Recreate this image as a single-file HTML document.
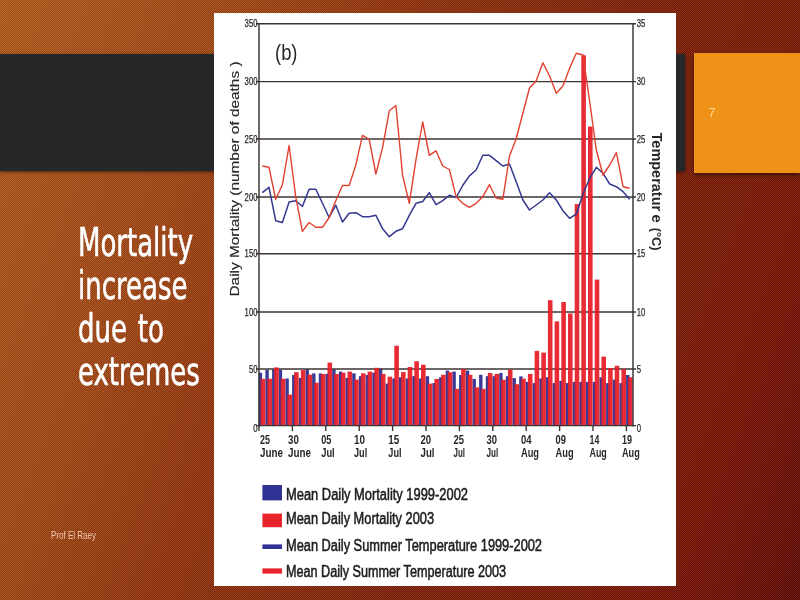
<!DOCTYPE html>
<html lang="en">
<head>
<meta charset="utf-8">
<title>Mortality increase due to extremes</title>
<style>
html,body{margin:0;padding:0}
body{width:800px;height:600px;overflow:hidden;position:relative;font-family:"Liberation Sans",sans-serif;background:#8a3516}
.bg{position:absolute;left:0;top:0;width:800px;height:600px;background:linear-gradient(112deg,rgb(187,98,34) 0%,rgb(168,78,26) 23.3%,rgb(152,57,17) 38.4%,rgb(132,37,14) 61.6%,rgb(128,31,10) 76.7%,rgb(123,23,9) 88.4%,rgb(99,13,9) 100%);}
.tex{position:absolute;left:0;top:0;width:800px;height:600px;
 background:repeating-conic-gradient(rgba(30,0,0,.20) 0% 25%,rgba(255,200,150,.08) 0% 50%) 0 0/2px 2px;}
.band{position:absolute;left:0;top:53.6px;width:685px;height:117.6px;background:#262728;box-shadow:0 1px 3px rgba(0,0,0,.55)}
.num{position:absolute;left:694px;top:53px;width:106px;height:120px;background:#ef9318;box-shadow:0 2px 4px rgba(0,0,0,.5)}
.num span{position:absolute;left:14.3px;top:52.8px;font-size:13px;line-height:14px;color:#fbd68c}
.chart{position:absolute;left:214px;top:13px;display:block}
h1{position:absolute;left:77.5px;top:221px;margin:0;font-weight:normal;color:#fff;font-family:"DejaVu Sans Condensed","DejaVu Sans","Liberation Sans",sans-serif;
 font-size:39.5px;line-height:43px;word-spacing:3.5px;-webkit-text-stroke:.6px #fff;white-space:nowrap;transform-origin:0 0;transform:scaleX(.731)}
.foot{position:absolute;left:50.5px;top:528.3px;font-size:10.7px;line-height:14px;color:#efc9ab;white-space:nowrap;transform-origin:0 0;transform:scaleX(.75)}
</style>
</head>
<body>
<div class="bg"></div>
<div class="tex"></div>
<div class="band"></div>
<div class="num"><span>7</span></div>
<svg class="chart" width="462" height="573" viewBox="214 13 462 573">
<rect x="214" y="13" width="462" height="573" fill="#fff"/>
<g style="filter:blur(.5px)">
<g fill="#3a3a96">
<rect x="258.7" y="372.7" width="3.4" height="52.9"/>
<rect x="265.4" y="369.8" width="3.4" height="55.8"/>
<rect x="272.1" y="369.2" width="3.4" height="56.3"/>
<rect x="278.7" y="369.8" width="3.4" height="55.8"/>
<rect x="285.4" y="378.5" width="3.4" height="47.1"/>
<rect x="292.1" y="375" width="3.4" height="50.6"/>
<rect x="298.8" y="377.9" width="3.4" height="47.7"/>
<rect x="305.5" y="369.2" width="3.4" height="56.3"/>
<rect x="312.1" y="373.4" width="3.4" height="52.2"/>
<rect x="318.8" y="373.4" width="3.4" height="52.2"/>
<rect x="325.5" y="373.9" width="3.4" height="51.7"/>
<rect x="332.2" y="369.2" width="3.4" height="56.3"/>
<rect x="338.9" y="371.6" width="3.4" height="54"/>
<rect x="345.5" y="377.9" width="3.4" height="47.7"/>
<rect x="352.2" y="373.3" width="3.4" height="52.3"/>
<rect x="358.9" y="376.2" width="3.4" height="49.4"/>
<rect x="365.6" y="375" width="3.4" height="50.6"/>
<rect x="372.3" y="372.7" width="3.4" height="52.9"/>
<rect x="378.9" y="368.7" width="3.4" height="56.9"/>
<rect x="385.6" y="383.6" width="3.4" height="42"/>
<rect x="392.3" y="378.5" width="3.4" height="47.1"/>
<rect x="399" y="377.3" width="3.4" height="48.3"/>
<rect x="405.7" y="378.5" width="3.4" height="47.1"/>
<rect x="412.3" y="376.2" width="3.4" height="49.4"/>
<rect x="419" y="378.5" width="3.4" height="47.1"/>
<rect x="425.7" y="376.2" width="3.4" height="49.4"/>
<rect x="432.4" y="383.1" width="3.4" height="42.5"/>
<rect x="439.1" y="377.3" width="3.4" height="48.3"/>
<rect x="445.7" y="370.6" width="3.4" height="55"/>
<rect x="452.4" y="371.6" width="3.4" height="54"/>
<rect x="459.1" y="375" width="3.4" height="50.6"/>
<rect x="465.8" y="370.6" width="3.4" height="55"/>
<rect x="472.5" y="378.9" width="3.4" height="46.7"/>
<rect x="479.1" y="374.8" width="3.4" height="50.8"/>
<rect x="485.8" y="376.2" width="3.4" height="49.4"/>
<rect x="492.5" y="376.2" width="3.4" height="49.4"/>
<rect x="499.2" y="373" width="3.4" height="52.6"/>
<rect x="505.9" y="376.2" width="3.4" height="49.4"/>
<rect x="512.5" y="378.1" width="3.4" height="47.5"/>
<rect x="519.2" y="376.4" width="3.4" height="49.2"/>
<rect x="525.9" y="381.9" width="3.4" height="43.7"/>
<rect x="532.6" y="383.1" width="3.4" height="42.5"/>
<rect x="539.3" y="378.5" width="3.4" height="47.1"/>
<rect x="545.9" y="377.3" width="3.4" height="48.3"/>
<rect x="552.6" y="383.1" width="3.4" height="42.5"/>
<rect x="559.3" y="380.8" width="3.4" height="44.8"/>
<rect x="566" y="383.1" width="3.4" height="42.5"/>
<rect x="572.7" y="381.9" width="3.4" height="43.7"/>
<rect x="579.3" y="381.9" width="3.4" height="43.7"/>
<rect x="586" y="381.9" width="3.4" height="43.7"/>
<rect x="592.7" y="381.9" width="3.4" height="43.7"/>
<rect x="599.4" y="377.3" width="3.4" height="48.3"/>
<rect x="606.1" y="383.1" width="3.4" height="42.5"/>
<rect x="612.7" y="379.6" width="3.4" height="46"/>
<rect x="619.4" y="383.1" width="3.4" height="42.5"/>
<rect x="626.1" y="375" width="3.4" height="50.6"/>
</g>
<g stroke="#3b3433" stroke-width="1.45" fill="none">
<path d="M256.0 23.8H636"/>
<path d="M256.0 81.6H636"/>
<path d="M256.0 139H636"/>
<path d="M256.0 197H636"/>
<path d="M256.0 253.8H636"/>
<path d="M256.0 312H636"/>
<path d="M256.0 369H636"/>
</g>
<g fill="#e61f29" fill-opacity=".94">
<rect x="260.7" y="378.8" width="4.6" height="46.8"/>
<rect x="267.4" y="378.8" width="4.6" height="46.8"/>
<rect x="274.1" y="367.4" width="4.6" height="58.2"/>
<rect x="280.7" y="378.8" width="4.6" height="46.8"/>
<rect x="287.4" y="394.6" width="4.6" height="31"/>
<rect x="294.1" y="372.1" width="4.6" height="53.5"/>
<rect x="300.8" y="370.1" width="4.6" height="55.5"/>
<rect x="307.5" y="374.7" width="4.6" height="50.9"/>
<rect x="314.1" y="382.7" width="4.6" height="42.9"/>
<rect x="320.8" y="374" width="4.6" height="51.6"/>
<rect x="327.5" y="362.6" width="4.6" height="63"/>
<rect x="334.2" y="374" width="4.6" height="51.6"/>
<rect x="340.9" y="372.7" width="4.6" height="52.9"/>
<rect x="347.5" y="371.6" width="4.6" height="54"/>
<rect x="354.2" y="379.6" width="4.6" height="46"/>
<rect x="360.9" y="373.3" width="4.6" height="52.3"/>
<rect x="367.6" y="371.6" width="4.6" height="54"/>
<rect x="374.3" y="367.8" width="4.6" height="57.8"/>
<rect x="380.9" y="373.9" width="4.6" height="51.7"/>
<rect x="387.6" y="376.7" width="4.6" height="48.9"/>
<rect x="394.3" y="345.7" width="4.6" height="79.9"/>
<rect x="401" y="372.1" width="4.6" height="53.5"/>
<rect x="407.7" y="367" width="4.6" height="58.6"/>
<rect x="414.3" y="361.2" width="4.6" height="64.4"/>
<rect x="421" y="364.7" width="4.6" height="60.9"/>
<rect x="427.7" y="383.6" width="4.6" height="42"/>
<rect x="434.4" y="379" width="4.6" height="46.6"/>
<rect x="441.1" y="374.8" width="4.6" height="50.8"/>
<rect x="447.7" y="372.2" width="4.6" height="53.4"/>
<rect x="454.4" y="388.9" width="4.6" height="36.7"/>
<rect x="461.1" y="368.9" width="4.6" height="56.7"/>
<rect x="467.8" y="374.8" width="4.6" height="50.8"/>
<rect x="474.5" y="387.3" width="4.6" height="38.3"/>
<rect x="481.1" y="388.9" width="4.6" height="36.7"/>
<rect x="487.8" y="373" width="4.6" height="52.6"/>
<rect x="494.5" y="373.9" width="4.6" height="51.7"/>
<rect x="501.2" y="379.7" width="4.6" height="45.9"/>
<rect x="507.9" y="369.7" width="4.6" height="55.9"/>
<rect x="514.5" y="384.2" width="4.6" height="41.4"/>
<rect x="521.2" y="378.6" width="4.6" height="47"/>
<rect x="527.9" y="373.9" width="4.6" height="51.7"/>
<rect x="534.6" y="350.9" width="4.6" height="74.8"/>
<rect x="541.3" y="352.6" width="4.6" height="73"/>
<rect x="547.9" y="300.2" width="4.6" height="125.3"/>
<rect x="554.6" y="321.4" width="4.6" height="104.2"/>
<rect x="561.3" y="302" width="4.6" height="123.6"/>
<rect x="568" y="313.5" width="4.6" height="112.1"/>
<rect x="574.7" y="204.1" width="4.6" height="221.5"/>
<rect x="581.3" y="55.3" width="4.6" height="370.3"/>
<rect x="588" y="126.6" width="4.6" height="299"/>
<rect x="594.7" y="279.6" width="4.6" height="146"/>
<rect x="601.4" y="356.6" width="4.6" height="69"/>
<rect x="608.1" y="368.1" width="4.6" height="57.5"/>
<rect x="614.7" y="365.8" width="4.6" height="59.8"/>
<rect x="621.4" y="369.2" width="4.6" height="56.3"/>
<rect x="628.1" y="377.3" width="4.6" height="48.3"/>
</g>
<g stroke="#3b3433" stroke-width="1.45" fill="none">
<path d="M256.0 425.6H636"/>
<path d="M259.0 23V426.40000000000003M633 23V426.40000000000003"/>
</g>
<g stroke="#3b3433" stroke-width="1.4">
<path d="M259 425.6v5.5"/>
<path d="M292.4 425.6v5.5"/>
<path d="M325.8 425.6v5.5"/>
<path d="M359.2 425.6v5.5"/>
<path d="M392.6 425.6v5.5"/>
<path d="M426 425.6v5.5"/>
<path d="M459.4 425.6v5.5"/>
<path d="M492.8 425.6v5.5"/>
<path d="M526.2 425.6v5.5"/>
<path d="M559.6 425.6v5.5"/>
<path d="M593 425.6v5.5"/>
<path d="M626.4 425.6v5.5"/>
</g>
<polyline points="262.3,192.7 269,187.3 275.7,220.7 282.4,222.5 289.1,202 295.7,200.7 302.4,206.5 309.1,189.2 315.8,189.2 322.5,203.3 329.1,217.5 335.8,205.2 342.5,222 349.2,213.2 355.9,212.7 362.5,216.7 369.2,216.7 375.9,215.3 382.6,228.7 389.3,236.7 395.9,231.3 402.6,228.7 409.3,215.3 416,203.3 422.7,201.5 429.3,192.7 436,204.7 442.7,200.7 449.4,195.3 456.1,197.5 462.7,185.5 469.4,175.9 476.1,170 482.8,155.3 489.5,155.3 496.1,160.7 502.8,166 509.5,164 516.2,181.7 522.9,200 529.5,210 536.2,205 542.9,200 549.6,192.7 556.3,200 562.9,210.7 569.6,218.3 576.3,214 583,194 589.7,178.3 596.3,167.3 603,173.3 609.7,184 616.4,186.7 623.1,191.7 629.7,199.3" fill="none" stroke="#34388f" stroke-width="1.5" stroke-linejoin="round"/>
<polyline points="262.3,166 269,167.3 275.7,199.3 282.4,184.7 289.1,145.5 295.7,196.7 302.4,231.3 309.1,222.5 315.8,227.3 322.5,227.3 329.1,217.5 335.8,200.7 342.5,185.5 349.2,185.5 355.9,164.7 362.5,135.3 369.2,139.3 375.9,174 382.6,147.3 389.3,110.8 395.9,105.5 402.6,175.3 409.3,203.3 416,159.3 422.7,122 429.3,155.3 436,150.8 442.7,166 449.4,169.5 456.1,196.7 462.7,203.3 469.4,207.3 476.1,203.3 482.8,196.7 489.5,184.7 496.1,198 502.8,199.3 509.5,156 516.2,138.8 522.9,113 529.5,88 536.2,80.7 542.9,62.7 549.6,76 556.3,93.3 562.9,86 569.6,68.3 576.3,53.3 583,55 589.7,101.7 596.3,150 603,175 609.7,165 616.4,152.7 623.1,186.7 629.7,188.3" fill="none" stroke="#e2402f" stroke-width="1.4" stroke-linejoin="round"/>
<g font-family="Liberation Sans, sans-serif" font-size="10.5" fill="#2a2626" stroke="#2a2626" stroke-width="0.25" text-anchor="end">
<text x="257.5" y="27.4" textLength="12.9" lengthAdjust="spacingAndGlyphs">350</text>
<text x="257.5" y="85.2" textLength="12.9" lengthAdjust="spacingAndGlyphs">300</text>
<text x="257.5" y="142.6" textLength="12.9" lengthAdjust="spacingAndGlyphs">250</text>
<text x="257.5" y="200.6" textLength="12.9" lengthAdjust="spacingAndGlyphs">200</text>
<text x="257.5" y="257.4" textLength="12.9" lengthAdjust="spacingAndGlyphs">150</text>
<text x="257.5" y="315.6" textLength="12.9" lengthAdjust="spacingAndGlyphs">100</text>
<text x="257.5" y="372.6" textLength="8.6" lengthAdjust="spacingAndGlyphs">50</text>
<text x="257.5" y="432" textLength="4.3" lengthAdjust="spacingAndGlyphs">0</text>
</g>
<g font-family="Liberation Sans, sans-serif" font-size="10.5" fill="#2a2626" stroke="#2a2626" stroke-width="0.25">
<text x="636.8" y="27.4" textLength="8.6" lengthAdjust="spacingAndGlyphs">35</text>
<text x="636.8" y="85.2" textLength="8.6" lengthAdjust="spacingAndGlyphs">30</text>
<text x="636.8" y="142.6" textLength="8.6" lengthAdjust="spacingAndGlyphs">25</text>
<text x="636.8" y="200.6" textLength="8.6" lengthAdjust="spacingAndGlyphs">20</text>
<text x="636.8" y="257.4" textLength="8.6" lengthAdjust="spacingAndGlyphs">15</text>
<text x="636.8" y="315.6" textLength="8.6" lengthAdjust="spacingAndGlyphs">10</text>
<text x="636.8" y="372.6" textLength="4.3" lengthAdjust="spacingAndGlyphs">5</text>
<text x="636.8" y="432" textLength="4.3" lengthAdjust="spacingAndGlyphs">0</text>
</g>
<text x="275" y="60.3" font-family="Liberation Sans, sans-serif" font-size="22.5" fill="#2a2626" textLength="22.5" lengthAdjust="spacingAndGlyphs">(b)</text>
<text transform="translate(238.7 296.5) rotate(-90)" font-family="Liberation Sans, sans-serif" font-size="12.2" fill="#2a2626" stroke="#2a2626" stroke-width="0.15" textLength="235" lengthAdjust="spacingAndGlyphs">Daily Mortality (number of deaths )</text>
<text transform="translate(651.5 132.6) rotate(90)" font-family="Liberation Sans, sans-serif" font-size="14.5" font-weight="bold" fill="#2a2626"><tspan x="0" textLength="78.5" lengthAdjust="spacingAndGlyphs">Temperatur</tspan><tspan x="82" textLength="8.2" lengthAdjust="spacingAndGlyphs">e</tspan><tspan x="91.5" font-size="13" textLength="26.5" lengthAdjust="spacingAndGlyphs"> (°C)</tspan></text>
<g font-family="Liberation Sans, sans-serif" font-size="13" font-weight="bold" fill="#2a2626">
<text x="260" y="444" textLength="10" lengthAdjust="spacingAndGlyphs">25</text>
<text x="260" y="457.2" textLength="23" lengthAdjust="spacingAndGlyphs">June</text>
<text x="288" y="444" textLength="10.8" lengthAdjust="spacingAndGlyphs">30</text>
<text x="288" y="457.2" textLength="23" lengthAdjust="spacingAndGlyphs">June</text>
<text x="321.2" y="444" textLength="10.2" lengthAdjust="spacingAndGlyphs">05</text>
<text x="321.2" y="457.2" textLength="13.5" lengthAdjust="spacingAndGlyphs">Jul</text>
<text x="354" y="444" textLength="11" lengthAdjust="spacingAndGlyphs">10</text>
<text x="354" y="457.2" textLength="13.2" lengthAdjust="spacingAndGlyphs">Jul</text>
<text x="388.3" y="444" textLength="11" lengthAdjust="spacingAndGlyphs">15</text>
<text x="388.3" y="457.2" textLength="13.2" lengthAdjust="spacingAndGlyphs">Jul</text>
<text x="420.5" y="444" textLength="10.6" lengthAdjust="spacingAndGlyphs">20</text>
<text x="420.5" y="457.2" textLength="14" lengthAdjust="spacingAndGlyphs">Jul</text>
<text x="453.5" y="444" textLength="10.5" lengthAdjust="spacingAndGlyphs">25</text>
<text x="453.5" y="457.2" textLength="11.5" lengthAdjust="spacingAndGlyphs">Jul</text>
<text x="486.5" y="444" textLength="10.5" lengthAdjust="spacingAndGlyphs">30</text>
<text x="486.5" y="457.2" textLength="11.8" lengthAdjust="spacingAndGlyphs">Jul</text>
<text x="521" y="444" textLength="10.6" lengthAdjust="spacingAndGlyphs">04</text>
<text x="521" y="457.2" textLength="18" lengthAdjust="spacingAndGlyphs">Aug</text>
<text x="555.6" y="444" textLength="10.4" lengthAdjust="spacingAndGlyphs">09</text>
<text x="555.6" y="457.2" textLength="18" lengthAdjust="spacingAndGlyphs">Aug</text>
<text x="589.5" y="444" textLength="9.8" lengthAdjust="spacingAndGlyphs">14</text>
<text x="589.5" y="457.2" textLength="17.3" lengthAdjust="spacingAndGlyphs">Aug</text>
<text x="622" y="444" textLength="10" lengthAdjust="spacingAndGlyphs">19</text>
<text x="622" y="457.2" textLength="17.8" lengthAdjust="spacingAndGlyphs">Aug</text>
</g>
<rect x="262.4" y="485" width="19.6" height="15.4" fill="#2f3292"/>
<rect x="262.4" y="513.6" width="19.6" height="13.6" fill="#e8232b"/>
<rect x="262.4" y="544.4" width="19.6" height="4.6" fill="#2f3292"/>
<rect x="262.4" y="568.4" width="19.6" height="5.2" fill="#e8232b"/>
<g font-family="Liberation Sans, sans-serif" font-size="16" fill="#201c1c" stroke="#201c1c" stroke-width="0.55">
<text x="286" y="499.6" textLength="182" lengthAdjust="spacingAndGlyphs">Mean Daily Mortality 1999-2002</text>
<text x="286" y="524.2" textLength="148" lengthAdjust="spacingAndGlyphs">Mean Daily Mortality 2003</text>
<text x="286" y="551" textLength="256" lengthAdjust="spacingAndGlyphs">Mean Daily Summer Temperature 1999-2002</text>
<text x="286" y="577" textLength="220" lengthAdjust="spacingAndGlyphs">Mean Daily Summer Temperature 2003</text>
</g>
</g>
</svg>
<h1>Mortality<br>increase<br>due to<br>extremes</h1>
<div class="foot">Prof El Raey</div>
</body>
</html>
